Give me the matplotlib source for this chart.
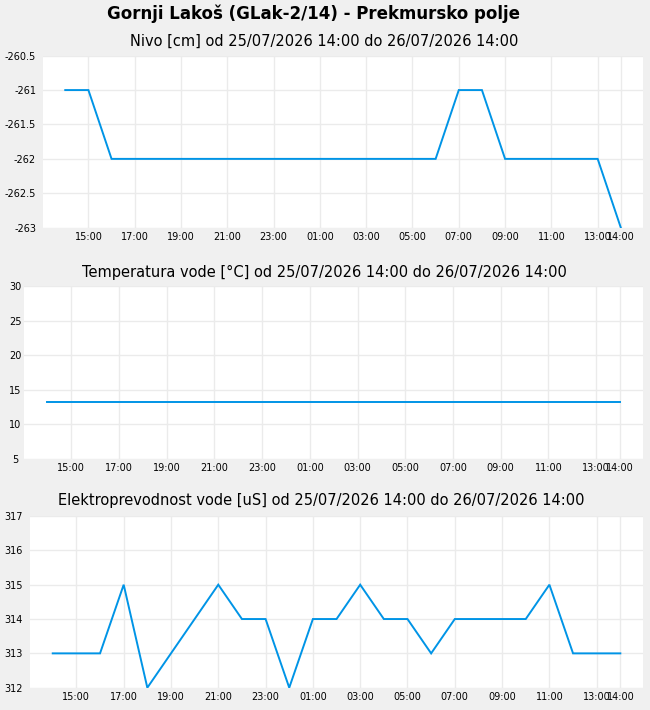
import matplotlib
matplotlib.use('Agg')
import matplotlib.pyplot as plt
import matplotlib.dates as mdates
import pandas as pd

plt.rcParams['font.family'] = ['DejaVu Sans']
plt.rcParams['axes.unicode_minus'] = False

# hourly samples, 25/07/2026 14:00 -> 26/07/2026 14:00
times = pd.date_range('2026-07-25 14:00', '2026-07-26 14:00', freq='h')

nivo = [-261, -261, -262, -262, -262, -262, -262, -262, -262, -262, -262,
        -262, -262, -262, -262, -262, -262, -261, -261, -262, -262, -262,
        -262, -262, -263]
temperatura = [13.3] * 25
prevodnost = [313, 313, 313, 315, 312, 313, 314, 315, 314, 314, 312, 314,
              314, 315, 314, 314, 313, 314, 314, 314, 314, 315, 313, 313, 313]

main_title = 'Gornji Lakoš (GLak-2/14) - Prekmursko polje'
period = 'od 25/07/2026 14:00 do 26/07/2026 14:00'
titles = ['Nivo [cm] ' + period,
          'Temperatura vode [°C] ' + period,
          'Elektroprevodnost vode [uS] ' + period]

nivo_ticks = [-263, -262.5, -262, -261.5, -261, -260.5]
nivo_labels = ['-263', '-262.5', '-262', '-261.5', '-261', '-260.5']
temp_ticks = [5, 10, 15, 20, 25, 30]
prev_ticks = [312, 313, 314, 315, 316, 317]

line_color = '#0094e6'
grid_color = '#ebebeb'
bg = '#f0f0f0'

fig = plt.figure(figsize=(6.5, 7.1), dpi=100, facecolor=bg)

# axes rectangles (figure fractions)
rects = [[0.0662, 0.6793, 0.9231, 0.2423],
         [0.0374, 0.3535, 0.9518, 0.2437],
         [0.0462, 0.0314, 0.9431, 0.2418]]
series = [nivo, temperatura, prevodnost]
yticks = [nivo_ticks, temp_ticks, prev_ticks]
ylabels = [nivo_labels, [str(v) for v in temp_ticks], [str(v) for v in prev_ticks]]
ylims = [(-263, -260.5), (5, 30), (312, 317)]

# x ticks: every odd hour plus the last sample
xticks = [t for t in times if t.hour % 2 == 1] + [times[-1]]
pad = pd.Timedelta(minutes=57.6)

for i in range(3):
    ax = fig.add_axes(rects[i])
    ax.set_facecolor('white')
    for s in ax.spines.values():
        s.set_visible(False)
    ax.plot(times, series[i], color=line_color, lw=1.4, solid_joinstyle='miter')
    ax.set_xlim(times[0] - pad, times[-1] + pad)
    ax.set_ylim(*ylims[i])
    ax.set_xticks(xticks)
    ax.xaxis.set_major_formatter(mdates.DateFormatter('%H:%M'))
    ax.set_yticks(yticks[i])
    ax.set_yticklabels(ylabels[i])
    ax.grid(True, color=grid_color, lw=1)
    ax.set_axisbelow(True)
    ax.tick_params(axis='both', length=0, labelsize=7, colors='black')
    ax.tick_params(axis='x', pad=3)
    if i == 1:
        ax.tick_params(axis='y', pad=6.5)
        for t in ax.get_yticklabels():
            t.set_ha('center')
    else:
        ax.tick_params(axis='y', pad=5)

fig.text(0.4823, 0.9732, main_title, ha='center', va='baseline',
         fontsize=12, fontweight='bold')
fig.text(0.4985, 0.9352, titles[0], ha='center', va='baseline', fontsize=10.5)
fig.text(0.4992, 0.6103, titles[1], ha='center', va='baseline', fontsize=10.5)
fig.text(0.4946, 0.2887, titles[2], ha='center', va='baseline', fontsize=10.5)

fig.savefig('out.png', dpi=100, facecolor=bg)
